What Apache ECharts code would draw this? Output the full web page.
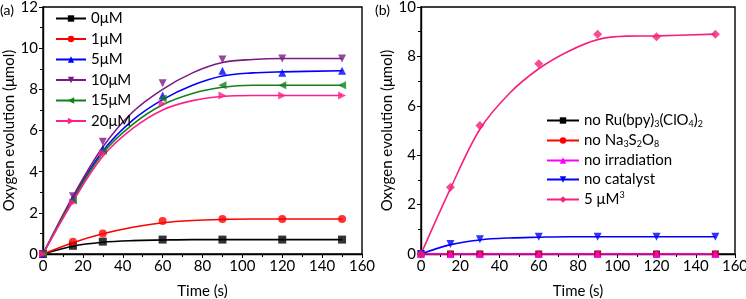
<!DOCTYPE html>
<html>
<head>
<meta charset="utf-8">
<script src="https://cdn.jsdelivr.net/npm/echarts@6/dist/echarts.min.js"></script>
<style>
  html, body { margin: 0; padding: 0; background: #fff; }
  #chart { width: 746px; height: 299px; }
</style>
</head>
<body>
<div id="chart"></div>
<script>
// measured times (s)
const times = [0, 15, 30, 60, 90, 120, 150]
const fitTimes = [0, 15, 30, 45, 60, 75, 90, 105, 120, 150]

// panel (a): catalyst concentrations
const namesA = ['0μM', '1μM', '5μM', '10μM', '15μM', '20μM']
const a0 = [0, 0.4, 0.6, 0.7, 0.7, 0.7, 0.7]
const a1 = [0, 0.6, 1.0, 1.6, 1.7, 1.7, 1.7]
const a5 = [0, 2.7, 5.1, 7.7, 8.9, 8.8, 8.9]
const a10 = [0, 2.8, 5.45, 8.3, 9.45, 9.5, 9.5]
const a15 = [0, 2.6, 5.0, 7.55, 8.2, 8.2, 8.2]
const a20 = [0, 2.5, 4.9, 7.3, 7.7, 7.7, 7.7]
const fitA0 = [0, 0.38, 0.57, 0.65, 0.68, 0.7, 0.7, 0.7, 0.7, 0.7]
const fitA1 = [0, 0.55, 0.98, 1.3, 1.52, 1.63, 1.68, 1.7, 1.7, 1.7]
const fitA5 = [0, 2.7, 5.0, 6.5, 7.5, 8.2, 8.65, 8.8, 8.85, 8.9]
const fitA10 = [0, 2.8, 5.2, 6.9, 8.0, 8.8, 9.3, 9.45, 9.5, 9.5]
const fitA15 = [0, 2.65, 4.9, 6.3, 7.25, 7.8, 8.1, 8.2, 8.2, 8.2]
const fitA20 = [0, 2.55, 4.75, 6.1, 7.0, 7.45, 7.65, 7.7, 7.7, 7.7]

// panel (b): control experiments
const namesB = ['no Ru(bpy)3(ClO4)2', 'no Na3S2O8', 'no irradiation', 'no catalyst', '5 μM3']
const bNoRu = [0, 0, 0, 0, 0, 0, 0]
const bNoNa = [0, 0, 0, 0, 0, 0, 0]
const bNoIrr = [0, 0, 0, 0, 0, 0, 0]
const bNoCat = [0, 0.4, 0.6, 0.7, 0.7, 0.7, 0.7]
const b5 = [0, 2.7, 5.2, 7.7, 8.9, 8.8, 8.9]
const fitBNoRu = [0, 0, 0, 0, 0, 0, 0, 0, 0, 0]
const fitBNoNa = [0, 0, 0, 0, 0, 0, 0, 0, 0, 0]
const fitBNoIrr = [0, 0, 0, 0, 0, 0, 0, 0, 0, 0]
const fitBNoCat = [0, 0.38, 0.57, 0.65, 0.68, 0.7, 0.7, 0.7, 0.7, 0.7]
const fitB5 = [0, 2.65, 5.05, 6.5, 7.5, 8.2, 8.68, 8.82, 8.83, 8.9]

// axis ticks
const xTicks = { min: 0, max: 160, interval: 20 }
const yTicksA = { min: 0, max: 12, interval: 2 }
const yTicksB = { min: 0, max: 10, interval: 2 }

const FONT = 'Lato'
const pair = (xs, ys) => xs.map((x, i) => [x, ys[i]])

function makeSeries(name, idx, fit, pts, color, symbol, rotate, size) {
  return [
    {
      name: name,
      type: 'line',
      xAxisIndex: idx,
      yAxisIndex: idx,
      data: pair(fitTimes, fit),
      smooth: 0.35,
      showSymbol: false,
      symbol: symbol,
      symbolRotate: rotate,
      symbolSize: 8,
      itemStyle: { color: color },
      lineStyle: { color: color, width: 1.6 },
      silent: true,
      z: 2
    },
    {
      name: name,
      type: 'scatter',
      xAxisIndex: idx,
      yAxisIndex: idx,
      data: pair(times, pts),
      symbol: symbol,
      symbolRotate: rotate,
      symbolSize: size || 8,
      itemStyle: { color: color },
      z: 3
    }
  ]
}

function xAxis(idx) {
  return {
    type: 'value',
    gridIndex: idx,
    min: xTicks.min,
    max: xTicks.max,
    interval: xTicks.interval,
    name: 'Time (s)',
    nameLocation: 'middle',
    nameGap: 30,
    nameTextStyle: { fontFamily: FONT, fontSize: 15, color: '#000' },
    axisLine: { lineStyle: { color: '#000', width: 1.4 } },
    axisTick: { inside: false, length: 4, lineStyle: { color: '#000' } },
    minorTick: { show: true, splitNumber: 2, length: 3, lineStyle: { color: '#000' } },
    axisLabel: { fontFamily: FONT, fontSize: 15, color: '#000', margin: 5 },
    splitLine: { show: false }
  }
}

function yAxis(idx, t) {
  return {
    type: 'value',
    gridIndex: idx,
    min: t.min,
    max: t.max,
    interval: t.interval,
    name: 'Oxygen evolution (μmol)',
    nameLocation: 'middle',
    nameGap: 26,
    nameTextStyle: { fontFamily: FONT, fontSize: 15, color: '#000' },
    axisLine: { lineStyle: { color: '#000', width: 1.4 } },
    axisTick: { inside: false, length: 4, lineStyle: { color: '#000' } },
    minorTick: { show: true, splitNumber: 2, length: 3, lineStyle: { color: '#000' } },
    axisLabel: { fontFamily: FONT, fontSize: 15, color: '#000', margin: 5 },
    splitLine: { show: false }
  }
}

const legendRich = {
  n: { fontFamily: FONT, fontSize: 15, color: '#000' },
  s: { fontFamily: FONT, fontSize: 9, color: '#000', verticalAlign: 'bottom', padding: [8, 0, 0, 0] },
  u: { fontFamily: FONT, fontSize: 9, color: '#000', verticalAlign: 'top', padding: [0, 0, 8, 0] }
}

function legendLabel(name) {
  if (name === 'no Ru(bpy)3(ClO4)2') return '{n|no Ru(bpy)}{s|3}{n|(ClO}{s|4}{n|)}{s|2}'
  if (name === 'no Na3S2O8') return '{n|no Na}{s|3}{n|S}{s|2}{n|O}{s|8}'
  if (name === '5 μM3') return '{n|5 μM}{u|3}'
  return '{n|' + name + '}'
}

const chart = echarts.init(document.getElementById('chart'), null, { renderer: 'canvas' })

chart.setOption({
  animation: false,
  textStyle: { fontFamily: FONT },
  grid: [
    { left: 43, top: 7, width: 319, bottom: 45, outerBoundsMode: 'none', show: true, borderColor: '#000', borderWidth: 1.4 },
    { left: 421, top: 7, right: 11, bottom: 45, outerBoundsMode: 'none', show: true, borderColor: '#000', borderWidth: 1.4 }
  ],
  xAxis: [xAxis(0), xAxis(1)],
  yAxis: [yAxis(0, yTicksA), yAxis(1, yTicksB)],
  legend: [
    {
      data: namesA,
      orient: 'vertical',
      left: 50,
      top: 6,
      itemWidth: 30,
      itemHeight: 8,
      itemGap: 5.5,
      textStyle: { fontFamily: FONT, fontSize: 15, color: '#000' }
    },
    {
      data: namesB,
      orient: 'vertical',
      left: 541,
      top: 108,
      itemWidth: 32,
      itemHeight: 8,
      itemGap: 4,
      formatter: legendLabel,
      textStyle: { fontFamily: FONT, fontSize: 15, color: '#000', rich: legendRich }
    }
  ],
  graphic: [
    { type: 'text', left: 0, top: 3, style: { text: '(a)', fontFamily: FONT, fontSize: 14, fill: '#000' } },
    { type: 'text', left: 375, top: 3, style: { text: '(b)', fontFamily: FONT, fontSize: 14, fill: '#000' } }
  ],
  series: [].concat(
    makeSeries(namesA[0], 0, fitA0, a0, '#000000', 'rect', 0),
    makeSeries(namesA[1], 0, fitA1, a1, '#ff0000', 'circle', 0),
    makeSeries(namesA[2], 0, fitA5, a5, '#0000ff', 'triangle', 0),
    makeSeries(namesA[3], 0, fitA10, a10, '#7b1a84', 'triangle', 180),
    makeSeries(namesA[4], 0, fitA15, a15, '#12801a', 'triangle', 90),
    makeSeries(namesA[5], 0, fitA20, a20, '#ff1f8a', 'triangle', -90),
    makeSeries(namesB[0], 1, fitBNoRu, bNoRu, '#000000', 'rect', 0, 7),
    makeSeries(namesB[1], 1, fitBNoNa, bNoNa, '#ff0000', 'circle', 0, 7),
    makeSeries(namesB[2], 1, fitBNoIrr, bNoIrr, '#ff00ff', 'triangle', 0, 8),
    makeSeries(namesB[3], 1, fitBNoCat, bNoCat, '#0000ff', 'triangle', 180),
    makeSeries(namesB[4], 1, fitB5, b5, '#f5217c', 'diamond', 0, 9)
  )
})
</script>
</body>
</html>
